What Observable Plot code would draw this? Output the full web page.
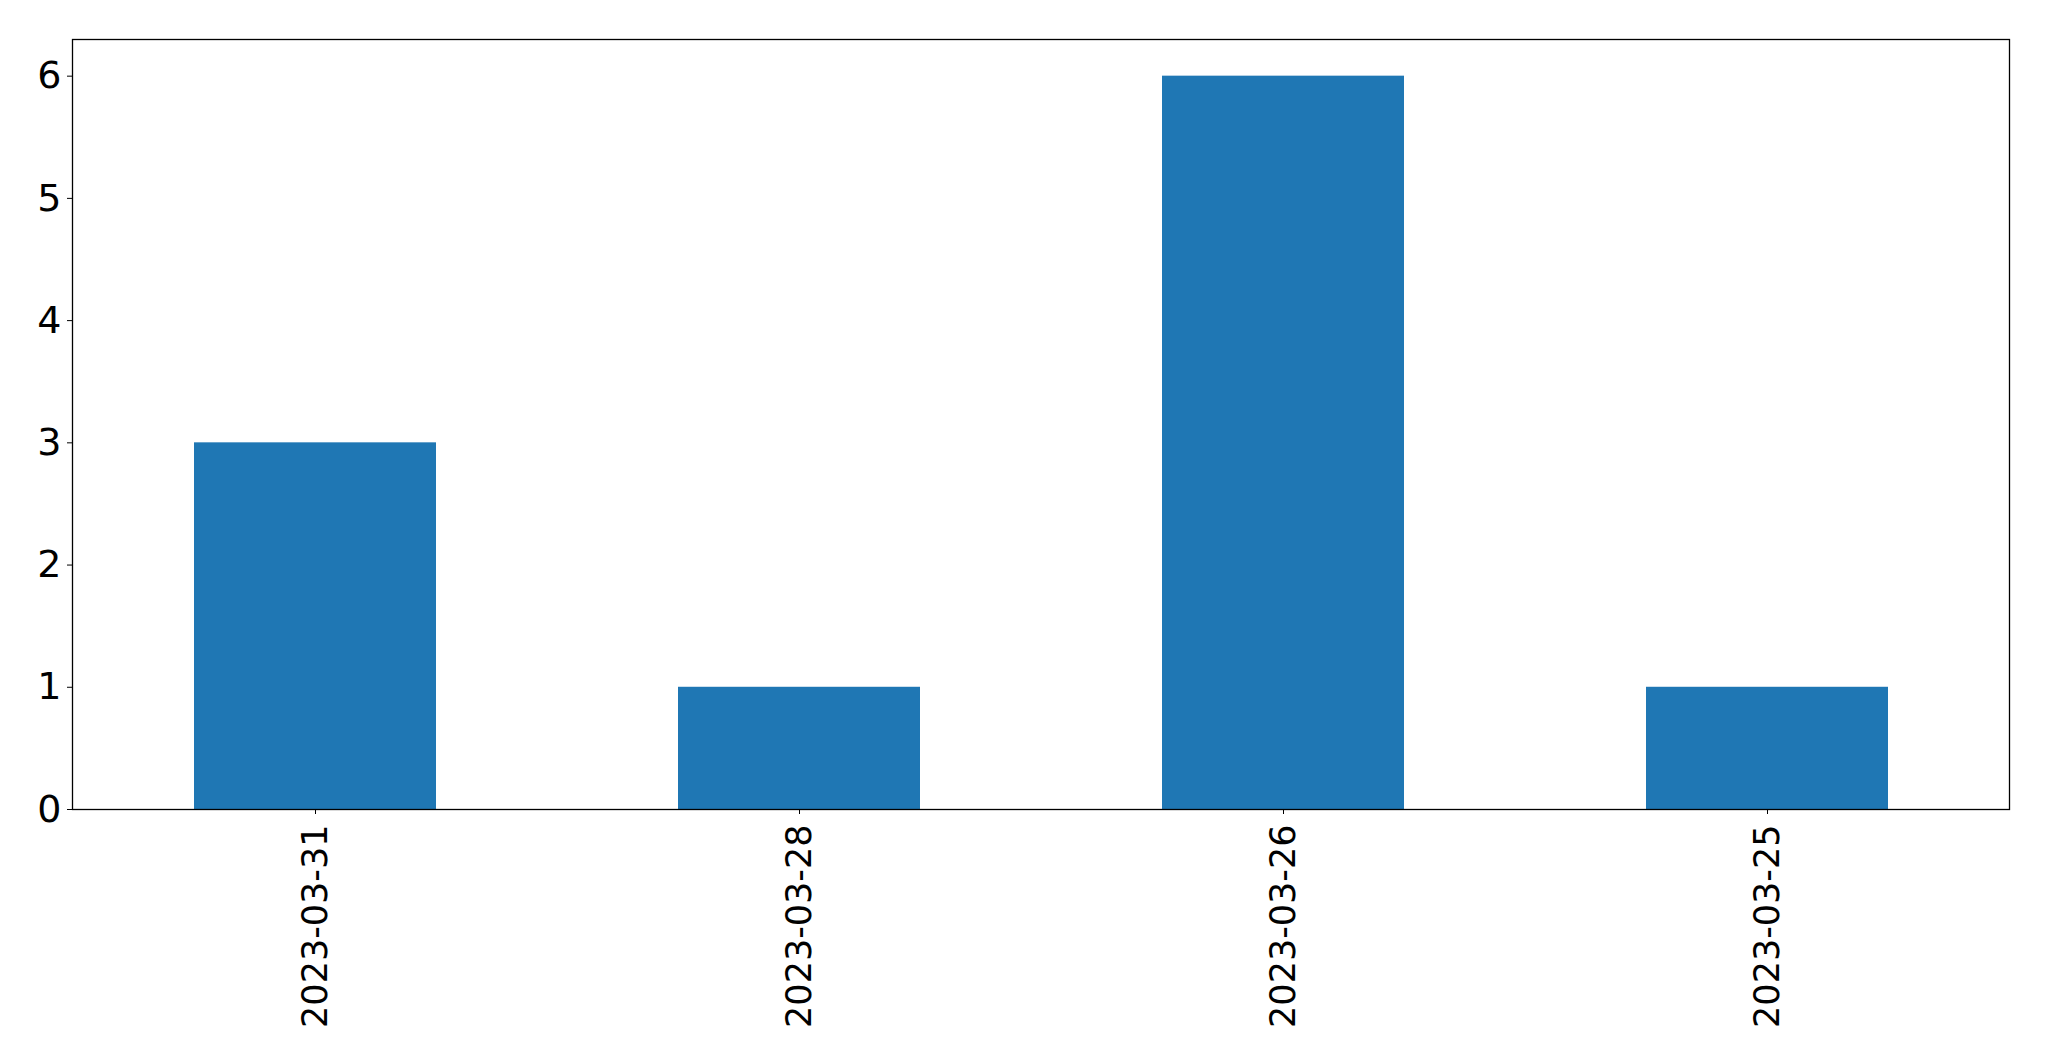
<!DOCTYPE html>
<html>
<head>
<meta charset="utf-8">
<script src="https://cdn.jsdelivr.net/npm/d3@7"></script>
<script src="https://cdn.jsdelivr.net/npm/@observablehq/plot@0.6"></script>
<style>
  html, body { margin: 0; padding: 0; background: white; }
  #chart { width: 2049px; height: 1061px; }
</style>
</head>
<body>
<div id="chart"></div>
<script>
const dates = ["2023-03-31", "2023-03-28", "2023-03-26", "2023-03-25"];
const counts = [3, 1, 6, 1];
const yTicks = [0, 1, 2, 3, 4, 5, 6];

const data = dates.map((d, i) => ({date: d, count: counts[i]}));

const chart = Plot.plot({
  width: 2049,
  height: 1061,
  marginLeft: 72,
  marginRight: 40,
  marginTop: 39,
  marginBottom: 252,
  style: {fontFamily: "DejaVu Sans", fontSize: "35px", background: "white", color: "black"},
  x: {domain: dates, paddingInner: 0.5, paddingOuter: 0.25, align: 0.5},
  y: {domain: [0, 6.3]},
  marks: [
    Plot.barY(data, {x: "date", y: "count", fill: "#1f77b4"}),
    Plot.frame({stroke: "black", strokeWidth: 1.3}),
    Plot.axisY({ticks: yTicks, tickSize: 5, tickPadding: 6, fontSize: 38, label: null, tickFormat: d => String(d)}),
    Plot.axisX({tickRotate: -90, tickSize: 5, tickPadding: 10, fontSize: 35, label: null})
  ]
});
document.getElementById("chart").appendChild(chart);
</script>
</body>
</html>
